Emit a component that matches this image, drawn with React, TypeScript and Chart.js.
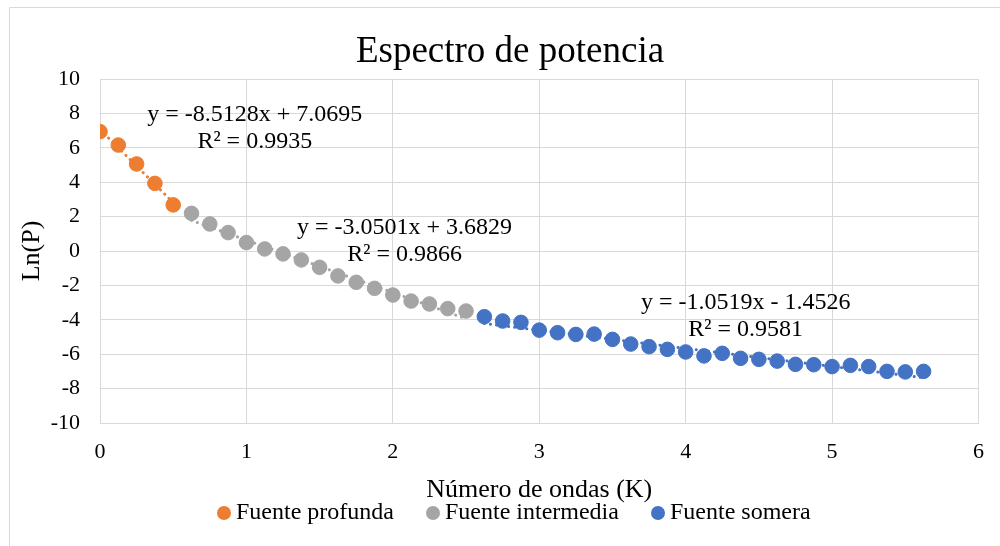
import React, { useEffect, useRef } from "react";
import { Chart, registerables } from "chart.js";

Chart.register(...registerables);

const kProfunda = [0, 0.125, 0.25, 0.375, 0.5];
const lnProfunda = [6.94, 6.16, 5.06, 3.93, 2.68];

const kIntermedia = [0.625, 0.75, 0.875, 1, 1.125, 1.25, 1.375, 1.5, 1.625, 1.75, 1.875, 2, 2.125, 2.25, 2.375, 2.5];
const lnIntermedia = [2.19, 1.57, 1.07, 0.49, 0.12, -0.17, -0.52, -0.95, -1.45, -1.82, -2.17, -2.56, -2.91, -3.08, -3.35, -3.49];

const kSomera = [2.625, 2.75, 2.875, 3, 3.125, 3.25, 3.375, 3.5, 3.625, 3.75, 3.875, 4, 4.125, 4.25, 4.375, 4.5, 4.625, 4.75, 4.875, 5, 5.125, 5.25, 5.375, 5.5, 5.625];
const lnSomera = [-3.82, -4.07, -4.15, -4.6, -4.75, -4.85, -4.83, -5.14, -5.41, -5.56, -5.72, -5.87, -6.1, -5.95, -6.24, -6.3, -6.4, -6.59, -6.61, -6.72, -6.65, -6.72, -7.0, -7.03, -7.0];

const seriesNames = ["Fuente profunda", "Fuente intermedia", "Fuente somera"];
const seriesColors = ["#ED7D31", "#A5A5A5", "#4472C4"];

// Trendline coefficients (as shown on the chart)
const trendSlopes = [-8.5128, -3.0501, -1.0519];
const trendIntercepts = [7.0695, 3.6829, -1.4526];
const trendR2 = ["0.9935", "0.9866", "0.9581"];
const trendEquations = ["y = -8.5128x + 7.0695", "y = -3.0501x + 3.6829", "y = -1.0519x - 1.4526"];
// label anchors in data coordinates
const labelX = [1.057, 2.08, 4.41];
const labelY = [7.56, 0.99, -3.37];

const xTicks = [0, 1, 2, 3, 4, 5, 6];
const yTicks = [-10, -8, -6, -4, -2, 0, 2, 4, 6, 8, 10];

const titleText = "Espectro de potencia";
const xTitle = "Número de ondas (K)";
const yTitle = "Ln(P)";

const SERIF = '"Liberation Serif", "Times New Roman", serif';

export default function App() {
  const ref = useRef<HTMLCanvasElement | null>(null);

  useEffect(() => {
    if (!ref.current) return;
    const ks = [kProfunda, kIntermedia, kSomera];
    const lns = [lnProfunda, lnIntermedia, lnSomera];

    const scatterSets = ks.map((k, i) => ({
      type: "scatter" as const,
      label: seriesNames[i],
      data: k.map((x, j) => ({ x, y: lns[i][j] })),
      backgroundColor: seriesColors[i],
      borderColor: seriesColors[i],
      pointRadius: 7.3,
      pointBorderWidth: 1,
      pointHoverRadius: 7.3,
      showLine: false,
      order: 2,
    }));

    const trendSets = ks.map((k, i) => {
      const x0 = k[0];
      const x1 = k[k.length - 1];
      return {
        type: "line" as const,
        label: "trend" + i,
        data: [
          { x: x0, y: trendSlopes[i] * x0 + trendIntercepts[i] },
          { x: x1, y: trendSlopes[i] * x1 + trendIntercepts[i] },
        ],
        borderColor: seriesColors[i],
        borderWidth: 3,
        borderDash: [0.1, 6],
        borderCapStyle: "round" as const,
        pointRadius: 0,
        fill: false,
        order: 1,
      };
    });

    const deco = {
      id: "deco",
      afterDraw(chart: any) {
        const ctx = chart.ctx as CanvasRenderingContext2D;
        const xs = chart.scales.x;
        const ys = chart.scales.y;
        const ca = chart.chartArea;
        ctx.save();
        // outer frame
        ctx.strokeStyle = "#d9d9d9";
        ctx.lineWidth = 1;
        ctx.beginPath();
        ctx.moveTo(9.5, 546);
        ctx.lineTo(9.5, 7.5);
        ctx.lineTo(1000, 7.5);
        ctx.stroke();

        ctx.fillStyle = "#000";
        // title
        ctx.font = `37px ${SERIF}`;
        ctx.textAlign = "center";
        ctx.textBaseline = "alphabetic";
        ctx.fillText(titleText, 510, 62);

        // x axis title
        ctx.font = `26px ${SERIF}`;
        ctx.fillText(xTitle, (ca.left + ca.right) / 2, 497);

        // y axis title
        ctx.save();
        ctx.translate(39, (ca.top + ca.bottom) / 2);
        ctx.rotate(-Math.PI / 2);
        ctx.fillText(yTitle, 0, 0);
        ctx.restore();

        // trend labels
        ctx.font = `24px ${SERIF}`;
        for (let i = 0; i < 3; i++) {
          const px = xs.getPixelForValue(labelX[i]);
          const py = ys.getPixelForValue(labelY[i]);
          ctx.fillText(trendEquations[i], px, py);
          ctx.fillText("R² = " + trendR2[i], px, py + 27);
        }

        // legend
        const legendX = [224, 433, 658];
        ctx.textAlign = "left";
        for (let i = 0; i < 3; i++) {
          ctx.fillStyle = seriesColors[i];
          ctx.beginPath();
          ctx.arc(legendX[i], 513, 7, 0, Math.PI * 2);
          ctx.fill();
          ctx.fillStyle = "#000";
          ctx.fillText(seriesNames[i], legendX[i] + 12, 519);
        }
        ctx.restore();
      },
    };

    const chart = new Chart(ref.current, {
      type: "scatter",
      data: { datasets: [...trendSets, ...scatterSets] as any },
      options: {
        animation: false,
        responsive: false,
        devicePixelRatio: 1,
        layout: { padding: { left: 0, top: 79, right: 20, bottom: 83 } },
        plugins: {
          legend: { display: false },
          title: { display: false },
          tooltip: { enabled: false },
        },
        scales: {
          x: {
            type: "linear",
            min: 0,
            max: 6,
            afterFit: (s: any) => {
              s.height = 40;
            },
            afterBuildTicks: (s: any) => {
              s.ticks = xTicks.map((v) => ({ value: v }));
            },
            grid: { color: "#d9d9d9", lineWidth: 1, drawTicks: false },
            border: { display: true, color: "#d9d9d9" },
            ticks: {
              color: "#000",
              padding: 16,
              font: { family: SERIF, size: 22 },
            },
          },
          y: {
            type: "linear",
            min: -10,
            max: 10,
            afterFit: (s: any) => {
              s.width = 100;
            },
            afterBuildTicks: (s: any) => {
              s.ticks = yTicks.map((v) => ({ value: v }));
            },
            grid: { color: "#d9d9d9", lineWidth: 1, drawTicks: false },
            border: { display: true, color: "#d9d9d9" },
            ticks: {
              color: "#000",
              padding: 20,
              font: { family: SERIF, size: 22 },
            },
          },
        },
      },
      plugins: [deco],
    });
    return () => chart.destroy();
  }, []);

  return (
    <div style={{ position: "absolute", left: 0, top: 0, width: 1000, height: 546, background: "#fff" }}>
      <canvas ref={ref} width={1000} height={546} style={{ display: "block" }} />
    </div>
  );
}
